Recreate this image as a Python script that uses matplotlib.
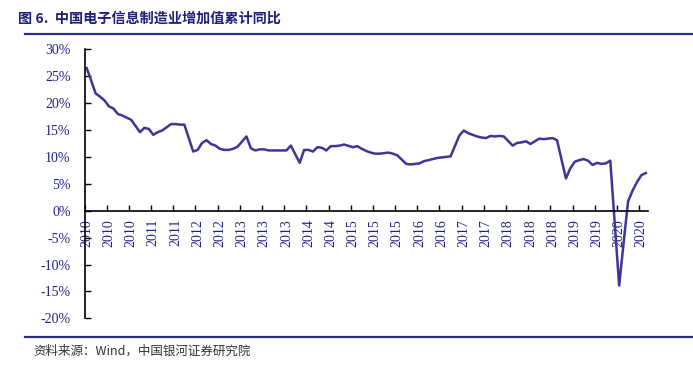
import numpy as np
import pandas as pd
import matplotlib
matplotlib.use('Agg')
import matplotlib.pyplot as plt
from matplotlib.lines import Line2D

# Electronics manufacturing value added, cumulative YoY (%)
# Feb..Dec each year (Jan is reported together with Feb), 2020 Feb..Aug
v2010 = [26.5, 24.2, 21.8, 21.2, 20.5, 19.4, 19.0, 18.0, 17.7, 17.3, 16.9]
v2011 = [14.6, 15.4, 15.2, 14.1, 14.6, 14.9, 15.5, 16.1, 16.1, 16.0, 16.0]
v2012 = [11.0, 11.3, 12.6, 13.1, 12.4, 12.1, 11.5, 11.3, 11.3, 11.5, 11.9]
v2013 = [13.8, 11.6, 11.2, 11.4, 11.4, 11.2, 11.2, 11.2, 11.2, 11.2, 12.1]
v2014 = [8.9, 11.3, 11.3, 11.0, 11.8, 11.7, 11.2, 12.0, 12.0, 12.1, 12.3]
v2015 = [11.8, 12.0, 11.5, 11.1, 10.8, 10.6, 10.6, 10.7, 10.8, 10.6, 10.3]
v2016 = [8.7, 8.6, 8.7, 8.8, 9.2, 9.4, 9.6, 9.8, 9.9, 10.0, 10.1]
v2017 = [14.0, 14.9, 14.4, 14.1, 13.8, 13.6, 13.5, 13.9, 13.8, 13.9, 13.8]
v2018 = [12.1, 12.6, 12.7, 12.9, 12.4, 12.9, 13.4, 13.3, 13.4, 13.5, 13.1]
v2019 = [6.0, 7.9, 9.1, 9.4, 9.6, 9.3, 8.5, 8.9, 8.7, 8.8, 9.3]
v2020 = [-13.9, -6.0, 1.7, 3.7, 5.3, 6.6, 7.0]

values = np.array(v2010 + v2011 + v2012 + v2013 + v2014 + v2015 + v2016 +
                  v2017 + v2018 + v2019 + v2020)

months = pd.period_range('2010-02', '2020-08', freq='M')
months = months[months.month != 1]
slot = (months.year - 2010) * 12 + months.month - 2  # monthly date axis

tick_months = pd.period_range('2010-02', '2020-08', freq='5M')
tick_slot = (tick_months.year - 2010) * 12 + tick_months.month - 2
tick_labels = [str(y) for y in tick_months.year]

y_ticks = np.arange(-20, 31, 5)
y_labels = ['%d%%' % v for v in y_ticks]

navy = '#22228C'
line_color = '#3E3597'

fig = plt.figure(figsize=(6.93, 3.65), dpi=100)
ax = fig.add_axes([84.5 / 693, 1 - 318.3 / 365, (648 - 84.5) / 693, (318.3 - 49.3) / 365])

ax.plot(slot, values, color=line_color, lw=1.8, solid_joinstyle='round')

ax.set_xlim(-0.5, 126.5)
ax.set_ylim(-20, 30)
ax.spines['top'].set_visible(False)
ax.spines['right'].set_visible(False)
ax.spines['bottom'].set_position(('data', 0))
ax.spines['bottom'].set_linewidth(1.2)
ax.spines['left'].set_linewidth(1.2)

ax.set_xticks(tick_slot - 0.5)
ax.set_xticklabels([])
ax.set_xticks(tick_slot, minor=True)
ax.set_xticklabels(tick_labels, minor=True, rotation=90,
                   fontfamily='Liberation Serif', fontsize=10, color=navy)
ax.tick_params(axis='x', which='major', direction='in', length=4, width=1)
ax.tick_params(axis='x', which='minor', length=0, pad=6)

ax.set_yticks(y_ticks)
ax.set_yticklabels(y_labels, fontfamily='Liberation Serif', fontsize=10, color=navy)
ax.tick_params(axis='y', direction='in', length=4, width=1, pad=10)

# header and footer
fig.text(18 / 693, 1 - 18.5 / 365, '图 6.  中国电子信息制造业增加值累计同比',
         fontfamily=['Noto Sans CJK SC', 'DejaVu Sans'], fontweight='bold',
         fontsize=10.2, color='#1F1F7A', va='center', ha='left')
fig.add_artist(Line2D([25 / 693, 1], [1 - 33.5 / 365] * 2, color='#2B2B88', lw=1.6))
fig.add_artist(Line2D([25 / 693, 1], [1 - 336.5 / 365] * 2, color='#2B2B88', lw=1.6))
fig.text(33 / 693, 1 - 351 / 365, '资料来源：Wind，中国银河证券研究院',
         fontfamily=['Noto Sans CJK SC', 'DejaVu Sans'], fontsize=9,
         color='#333333', va='center', ha='left')

fig.savefig('out.png', dpi=100)
